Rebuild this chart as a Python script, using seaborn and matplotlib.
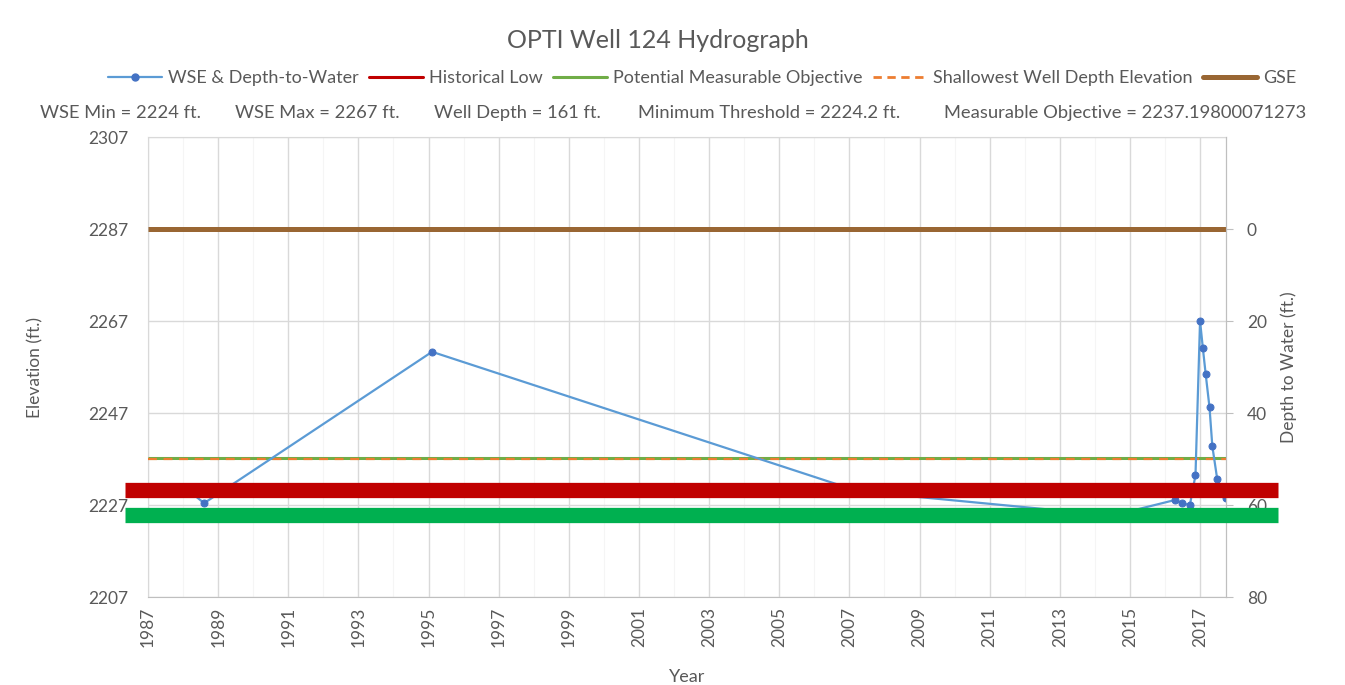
import matplotlib
matplotlib.use("Agg")
import matplotlib.pyplot as plt
import seaborn as sns
import pandas as pd
from matplotlib.lines import Line2D

# ---------------- data ----------------
years = [1988.1, 1988.6, 1995.1, 2007.25, 2014.5, 2016.29, 2016.49, 2016.71,
         2016.87, 2017.0, 2017.08, 2017.16, 2017.27, 2017.35, 2017.49, 2017.73]
wse = [2230.5, 2227.4, 2260.3, 2230.0, 2224.7, 2228.1, 2227.4, 2227.0,
       2233.5, 2267.0, 2261.1, 2255.5, 2248.2, 2239.8, 2232.6, 2228.5]

gse = 2287.0
potential_mo = 2237.2
shallowest_elev = 2236.9
historical_low_band = 2230.3
min_threshold_band = 2224.8

title = "OPTI Well 124 Hydrograph"
stats = ["WSE Min = 2224 ft.", "WSE Max = 2267 ft.", "Well Depth = 161 ft.",
         "Minimum Threshold = 2224.2 ft.", "Measurable Objective = 2237.19800071273"]
legend_labels = ["WSE & Depth-to-Water", "Historical Low", "Potential Measurable Objective",
                 "Shallowest Well Depth Elevation", "GSE"]
x_ticks = list(range(1987, 2018, 2))
y_ticks = [2207, 2227, 2247, 2267, 2287, 2307]
depth_ticks = [0, 20, 40, 60, 80]

df = pd.DataFrame({"Year": years, "WSE": wse})

# ---------------- style ----------------
sns.set_style("white")
FONT = ["Lato", "DejaVu Sans"]
plt.rcParams["font.family"] = FONT
TXT = "#595959"
GRID = "#d9d9d9"

BLUE = "#5B9BD5"
MARK = "#4472C4"
RED = "#C00000"
GREEN = "#70AD47"
ORANGE = "#ED7D31"
BROWN = "#996633"
BAND_GREEN = "#00B050"

fig = plt.figure(figsize=(13.45, 6.85), dpi=100)
L, R, T, B = 148, 1226, 137, 597
W, H = 1345, 685
ax = fig.add_axes([L / W, 1 - B / H, (R - L) / W, (B - T) / H])

ax.set_xlim(1987, 2017.74)
ax.set_ylim(2207, 2307)

# reference lines
ax.axhline(gse, color=BROWN, lw=3.6, zorder=3, solid_capstyle="butt")
ax.axhline(potential_mo, color=GREEN, lw=2.2, zorder=3, solid_capstyle="butt")
ax.axhline(shallowest_elev, color=ORANGE, lw=1.6, ls=(0, (4, 3)), zorder=3)

sns.lineplot(data=df, x="Year", y="WSE", ax=ax, color=BLUE, lw=1.6,
             marker="o", markersize=5, markerfacecolor=MARK, markeredgecolor=MARK,
             zorder=4, legend=False)

ax.set_xticks(x_ticks)
ax.set_xticklabels([str(y) for y in x_ticks], rotation=90)
ax.set_xticks([y + 1 for y in x_ticks[:-1]], minor=True)
ax.set_yticks(y_ticks)
ax.grid(True, which="major", color=GRID, lw=1.0)
ax.grid(True, which="minor", axis="x", color="#f5f5f5", lw=0.8)
ax.tick_params(axis="both", which="both", length=0, colors=TXT, labelsize=12.5)
ax.tick_params(axis="x", pad=7)
ax.tick_params(axis="y", pad=14)
for s in ["left", "top"]:
    ax.spines[s].set_color(GRID)
for s in ["bottom", "right"]:
    ax.spines[s].set_color("#bfbfbf")
ax.set_xlabel("Year", color=TXT, fontsize=13, labelpad=16)
ax.set_ylabel("Elevation (ft.)", color=TXT, fontsize=12.5, labelpad=32)

# secondary axis: depth to water
ax2 = ax.twinx()
ax2.set_ylim(gse - 2207, gse - 2307)
ax2.set_yticks(depth_ticks)
ax2.tick_params(axis="y", length=5, color="#bfbfbf", colors=TXT, labelsize=12.5, pad=10)
ax2.tick_params(axis="y", color="#bfbfbf")
for s in ["left", "top", "bottom"]:
    ax2.spines[s].set_visible(False)
ax2.spines["right"].set_color("#bfbfbf")
ax2.set_ylabel("Depth to Water (ft.)", color=TXT, fontsize=12.5, labelpad=10)

# thick overlay bands extending past the plot
ax2.axhline(gse - historical_low_band, xmin=-0.021, xmax=1.048, color=RED, lw=11,
            clip_on=False, zorder=6, solid_capstyle="butt")
ax2.axhline(gse - min_threshold_band, xmin=-0.021, xmax=1.048, color=BAND_GREEN, lw=11,
            clip_on=False, zorder=6, solid_capstyle="butt")

# title
fig.text(658 / W, 1 - 40 / H, title, ha="center", va="center", color=TXT, fontsize=18)

# legend
handles = [
    Line2D([], [], color=BLUE, lw=1.6, marker="o", markersize=5, markerfacecolor=MARK,
           markeredgecolor=MARK),
    Line2D([], [], color=RED, lw=2.2),
    Line2D([], [], color=GREEN, lw=2.2),
    Line2D([], [], color=ORANGE, lw=2.0, ls=(0, (3, 2))),
    Line2D([], [], color=BROWN, lw=3.6),
]
leg = fig.legend(handles, legend_labels, loc="center", bbox_to_anchor=(702 / W, 1 - 78 / H),
                 ncol=5, frameon=False, fontsize=13, handlelength=3.0, handletextpad=0.3,
                 columnspacing=0.6)
for t in leg.get_texts():
    t.set_color(TXT)

# stats row
stat_x = [40, 235, 434, 638, 944]
for x, s in zip(stat_x, stats):
    fig.text(x / W, 1 - 113 / H, s, ha="left", va="center", color=TXT, fontsize=13.2)

fig.savefig("out.png", dpi=100, facecolor="white")
